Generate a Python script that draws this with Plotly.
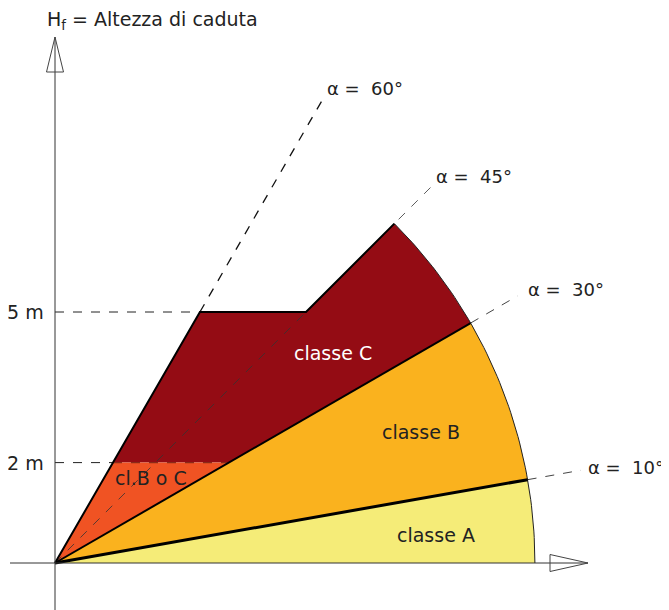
import numpy as np
import plotly.graph_objects as go

# data
angles = [10, 30, 45, 60]             # slope angles alpha, degrees
angle_labels = ['α\u00a0=\u00a0\u00a010°', 'α\u00a0=\u00a0\u00a030°',
                'α\u00a0=\u00a0\u00a045°', 'α\u00a0=\u00a0\u00a060°']
heights = [2, 5]                      # fall heights, m
height_labels = ['2\u00a0m', '5\u00a0m']
class_names = ['classe A', 'classe B', 'classe C', 'cl.B o C']
class_colors = ['#F5EC78', '#FAB21E', '#940C14', '#F05323']
radius = 9.56                         # arc radius, m
radius_ext = 10.64                    # dashed guide length, m
axis_title = 'H<sub>f</sub> = Altezza di caduta'

px = 50.2   # pixels per metre
ox, oy = 47, 555  # origin inside the figure (page has an 8px body margin)
FONT = 'DejaVu Sans'
FS = 19


def ray(a, r):
    t = np.radians(a)
    return r * np.cos(t), r * np.sin(t)


def arc(a0, a1, r, n=60):
    t = np.radians(np.linspace(a0, a1, n))
    return list(r * np.cos(t)), list(r * np.sin(t))


def at_height(a, h):
    return h / np.tan(np.radians(a)), h


a10, a30, a45, a60 = angles
h2, h5 = heights

fig = go.Figure()


def poly(xs, ys, color):
    fig.add_trace(go.Scatter(x=xs, y=ys, fill='toself', fillcolor=color,
                             mode='lines', line=dict(width=0), hoverinfo='skip'))


def seg(xs, ys, color='black', width=2, dash='solid'):
    fig.add_trace(go.Scatter(x=xs, y=ys, mode='lines',
                             line=dict(color=color, width=width, dash=dash), hoverinfo='skip'))


# classe A
ax_, ay_ = arc(0, a10, radius)
poly([0] + ax_ + [0], [0] + ay_ + [0], class_colors[0])
# classe B
bx_, by_ = arc(a10, a30, radius)
poly([0] + bx_ + [0], [0] + by_ + [0], class_colors[1])
# classe C
p60_2 = at_height(a60, h2)
p30_2 = at_height(a30, h2)
p60_5 = at_height(a60, h5)
p45_5 = at_height(a45, h5)
cx_, cy_ = arc(a45, a30, radius)
poly([p60_2[0], p60_5[0], p45_5[0]] + cx_ + [p30_2[0], p60_2[0]],
     [p60_2[1], p60_5[1], p45_5[1]] + cy_ + [p30_2[1], p60_2[1]], class_colors[2])
# cl. B o C
poly([0, p60_2[0], p30_2[0], 0], [0, p60_2[1], p30_2[1], 0], class_colors[3])

# dashed guides
x60, y60 = ray(a60, radius_ext)
seg([p60_5[0], x60], [p60_5[1], y60], '#111', 1.3, 'dash')
x45e, y45e = ray(a45, radius_ext)
seg([0, x45e], [0, y45e], '#333', 0.8, 'dash')
for a in (a30, a10):
    x0, y0 = ray(a, radius)
    x1, y1 = ray(a, radius_ext)
    seg([x0, x1], [y0, y1], '#444', 1, 'dash')
seg([0, p60_5[0]], [h5, h5], '#222', 1, 'dash')
seg([0, p60_2[0]], [h2, h2], '#222', 1, 'dash')
seg([p60_2[0], p30_2[0]], [h2, h2], '#8a2a18', 1.2, 'dash')

# boundaries
ax2, ay2 = arc(0, a45, radius)
seg(ax2, ay2, '#222', 1)
x, y = ray(a10, radius)
seg([0, x], [0, y], 'black', 3)
x, y = ray(a30, radius)
seg([0, x], [0, y], 'black', 2)
x, y = ray(a45, radius)
seg([0, p60_5[0], p45_5[0], x], [0, p60_5[1], p45_5[1], y], 'black', 2)

# axes with hollow arrow heads
xmin, xmax = -ox / px, (669 - ox) / px
ymin, ymax = -(610 - oy) / px, oy / px
tip_y, base_y, hw = 526 / px, 491 / px, 8.5 / px
tip_x, base_x = 533 / px, 495 / px
seg([0, 0], [ymin, tip_y], '#333', 1)
seg([-45 / px, tip_x], [0, 0], '#333', 1)
seg([-hw, 0, hw, -hw], [base_y, tip_y, base_y, base_y], '#444', 1)
seg([base_x, tip_x, base_x, base_x], [-hw, 0, hw, -hw], '#444', 1)

ann = []
ann.append(dict(x=-10 / px, y=(563 - 20) / px, text=axis_title, xanchor='left', yanchor='middle',
                showarrow=False, font=dict(size=FS, color='#222', family=FONT)))
for h, lab in zip(heights, height_labels):
    ann.append(dict(x=-9 / px, y=h, text=lab, xanchor='right', yanchor='middle',
                    showarrow=False, font=dict(size=FS, color='#222', family=FONT)))
offsets = {10: (5, 3), 30: (8, 6), 45: (1, 9), 60: (3, 12)}
for a, lab in zip(angles, angle_labels):
    x, y = ray(a, radius_ext)
    dx, dy = offsets[a]
    ann.append(dict(x=x, y=y, text=lab, xanchor='left', yanchor='middle', xshift=dx, yshift=dy,
                    showarrow=False, font=dict(size=18, color='#222', family=FONT)))
label_pos = [(436, 535), (421, 432), (333, 353), (151, 478)]
label_col = ['#222', '#222', 'white', '#222']
for name, (lx, ly), c in zip(class_names, label_pos, label_col):
    ann.append(dict(x=(lx - 55) / px, y=(563 - ly) / px, text=name, showarrow=False,
                    xanchor='center', yanchor='middle', font=dict(size=FS, color=c, family=FONT)))

fig.update_layout(width=669, height=610, margin=dict(l=0, r=0, t=0, b=0),
                  plot_bgcolor='white', paper_bgcolor='white', showlegend=False,
                  annotations=ann)
fig.update_xaxes(range=[xmin, xmax], visible=False)
fig.update_yaxes(range=[ymin, ymax], visible=False)
fig.write_html("out.html")
